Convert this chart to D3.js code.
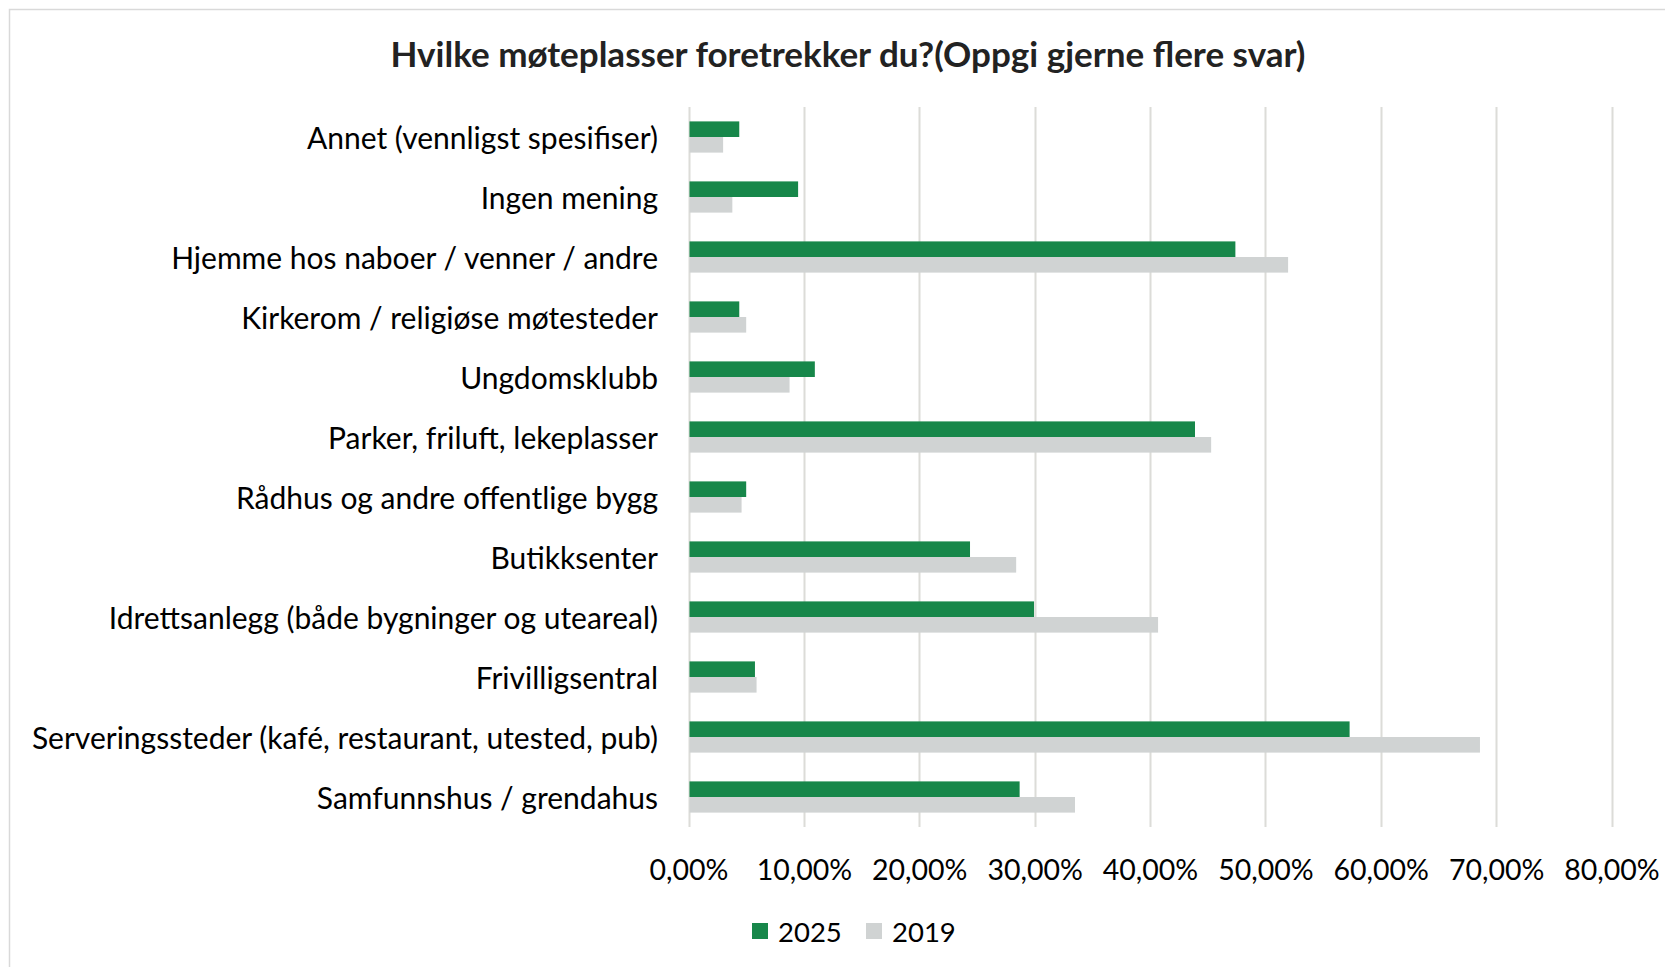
<!DOCTYPE html>
<html>
<head>
<meta charset="utf-8">
<script src="https://cdn.jsdelivr.net/npm/d3@7"></script>
<style>
  body { margin: 0; background: #fff; }
  svg { display: block; }
  text { font-family: Lato, "Open Sans", sans-serif; fill: #000; }
</style>
</head>
<body>
<svg id="chart" width="1665" height="967"></svg>
<script>
// kategorier, øverst til nederst
var categories = [
  "Annet (vennligst spesifiser)",
  "Ingen mening",
  "Hjemme hos naboer / venner / andre",
  "Kirkerom / religiøse møtesteder",
  "Ungdomsklubb",
  "Parker, friluft, lekeplasser",
  "Rådhus og andre offentlige bygg",
  "Butikksenter",
  "Idrettsanlegg (både bygninger og uteareal)",
  "Frivilligsentral",
  "Serveringssteder (kafé, restaurant, utested, pub)",
  "Samfunnshus / grendahus"
];
var series = ["2025", "2019"];
var values2025 = [0.044, 0.095, 0.474, 0.044, 0.1095, 0.439, 0.050, 0.244, 0.2995, 0.0576, 0.573, 0.287];
var values2019 = [0.030, 0.038, 0.5197, 0.050, 0.0876, 0.453, 0.046, 0.284, 0.407, 0.059, 0.686, 0.335];
var xTicks = [0, 0.1, 0.2, 0.3, 0.4, 0.5, 0.6, 0.7, 0.8];
var title = "Hvilke møteplasser foretrekker du?(Oppgi gjerne flere svar)";

var colors = { "2025": "#17874a", "2019": "#d0d3d3" };

var svg = d3.select("#chart");
var W = 1665, H = 967;

var nb = d3.formatLocale({ decimal: ",", thousands: " ", grouping: [3], currency: ["", " kr"] });
var fmt = nb.format(".2%");

var x = d3.scaleLinear().domain([0, 0.8]).range([688.5, 1611.5]);
var y0 = d3.scaleBand().domain(categories).range([107, 827])
  .paddingInner(0.48).paddingOuter(0.24);
var y1 = d3.scaleBand().domain(series).range([0, y0.bandwidth()]);

// ramme
svg.append("path")
  .attr("d", "M9.5," + H + "V9.5H" + W)
  .attr("fill", "none")
  .attr("stroke", "#d9d9d9")
  .attr("stroke-width", 1.5);

// tittel
svg.append("text")
  .attr("x", 848)
  .attr("y", 53)
  .attr("text-anchor", "middle")
  .attr("dominant-baseline", "central")
  .style("font-size", "35px")
  .style("font-weight", "bold")
  .style("fill", "#222")
  .text(title);

// rutenett
svg.append("g")
  .selectAll("line")
  .data(xTicks)
  .enter().append("line")
  .attr("x1", function(d) { return Math.round(x(d)) + 0.5; })
  .attr("x2", function(d) { return Math.round(x(d)) + 0.5; })
  .attr("y1", 107)
  .attr("y2", 827)
  .attr("stroke", "#dcdcd8")
  .attr("stroke-width", 2);

// søyler
var rows = categories.map(function(c, i) {
  return { cat: c, vals: [{ s: "2025", v: values2025[i] }, { s: "2019", v: values2019[i] }] };
});

var g = svg.append("g")
  .selectAll("g")
  .data(rows)
  .enter().append("g")
  .attr("transform", function(d) { return "translate(0," + y0(d.cat) + ")"; });

g.selectAll("rect")
  .data(function(d) { return d.vals; })
  .enter().append("rect")
  .attr("x", x(0) + 1)
  .attr("y", function(d) { return y1(d.s); })
  .attr("width", function(d) { return x(d.v) - x(0) - 1; })
  .attr("height", y1.bandwidth())
  .attr("fill", function(d) { return colors[d.s]; });

// kategoriaksen
svg.append("g")
  .selectAll("text")
  .data(categories)
  .enter().append("text")
  .attr("x", 658)
  .attr("y", function(d) { return y0(d) + y0.bandwidth() / 2; })
  .attr("text-anchor", "end")
  .attr("dominant-baseline", "central")
  .style("font-size", "30px")
  .text(function(d) { return d; });

// x-akse etiketter
var xAxis = d3.axisBottom(x).tickValues(xTicks).tickFormat(fmt).tickSize(0).tickPadding(0);
var ax = svg.append("g").attr("transform", "translate(0,869)").call(xAxis);
ax.select(".domain").remove();
ax.selectAll("text")
  .attr("y", 0)
  .attr("dy", null)
  .attr("dominant-baseline", "central")
  .style("font-size", "28.5px")
  .style("font-family", "Lato, 'Open Sans', sans-serif")
  .style("fill", "#000");

// tegnforklaring
var legX = [752, 866];
var leg = svg.append("g")
  .selectAll("g")
  .data(series)
  .enter().append("g")
  .attr("transform", function(d, i) { return "translate(" + legX[i] + ",923)"; });
leg.append("rect")
  .attr("width", 16)
  .attr("height", 16)
  .attr("fill", function(d) { return colors[d]; });
leg.append("text")
  .attr("x", 26)
  .attr("y", 8.5)
  .attr("dominant-baseline", "central")
  .style("font-size", "27.5px")
  .text(function(d) { return d; });
</script>
</body>
</html>
